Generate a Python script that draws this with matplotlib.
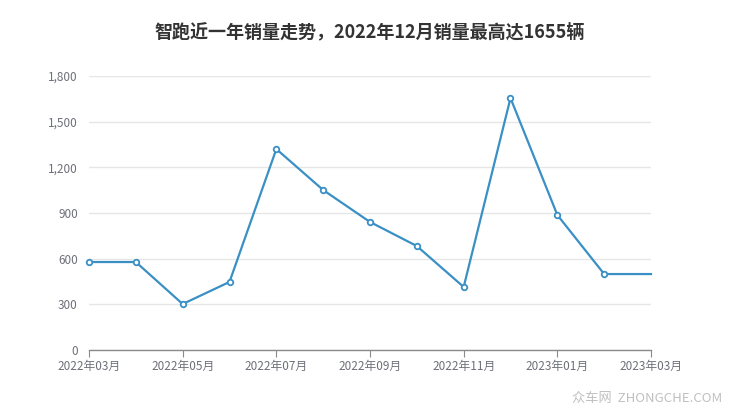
import matplotlib
matplotlib.use("Agg")
import matplotlib.pyplot as plt
from matplotlib.ticker import FuncFormatter

plt.rcParams['font.family'] = ['Noto Sans CJK SC', 'DejaVu Sans']

months = ["2022年03月", "2022年04月", "2022年05月", "2022年06月", "2022年07月", "2022年08月",
          "2022年09月", "2022年10月", "2022年11月", "2022年12月", "2023年01月", "2023年02月", "2023年03月"]
sales = [578, 578, 302, 447, 1320, 1051, 841, 683, 414, 1655, 887, 499, 499]
yticks = [0, 300, 600, 900, 1200, 1500, 1800]
title = "智跑近一年销量走势，2022年12月销量最高达1655辆"

W, H = 740, 417
fig = plt.figure(figsize=(W / 100, H / 100), dpi=100)
ax = fig.add_axes([89 / W, 1 - 350 / H, (651 - 89) / W, (350 - 76) / H])

x = list(range(len(months)))
color = "#3a90c5"
ax.plot(x, sales, color=color, linewidth=1.6, zorder=3, clip_on=False)
ax.plot(x[:-1], sales[:-1], linestyle="none", marker="o", markersize=4,
        markerfacecolor="white", markeredgecolor=color, markeredgewidth=1.3, zorder=4,
        clip_on=False)

ax.set_xlim(0, len(months) - 1)
ax.set_ylim(0, 1800)
ax.set_yticks(yticks)
ax.yaxis.set_major_formatter(FuncFormatter(lambda v, p: f"{int(v):,}"))
ax.grid(axis="y", color="#e6e6e6", linewidth=1)
ax.set_axisbelow(True)

ax.set_xticks(x[::2])
ax.set_xticklabels(months[::2])

for s in ["top", "right", "left"]:
    ax.spines[s].set_visible(False)
ax.spines["bottom"].set_color("#8a8a8a")
ax.spines["bottom"].set_linewidth(1)
ax.tick_params(axis="y", length=0, pad=8, labelsize=8.5, labelcolor="#6e7079")
ax.tick_params(axis="x", length=5, color="#8a8a8a", pad=2, labelsize=8.5, labelcolor="#6e7079")

fig.text(0.5, 1 - 32 / H, title, ha="center", va="center", fontsize=13,
         fontweight="bold", color="#333333")
fig.text(722 / W, 1 - 398 / H, "众车网  ZHONGCHE.COM", ha="right", va="center",
         fontsize=9.5, color="#c0c0c0")

fig.savefig("out.png", dpi=100)
